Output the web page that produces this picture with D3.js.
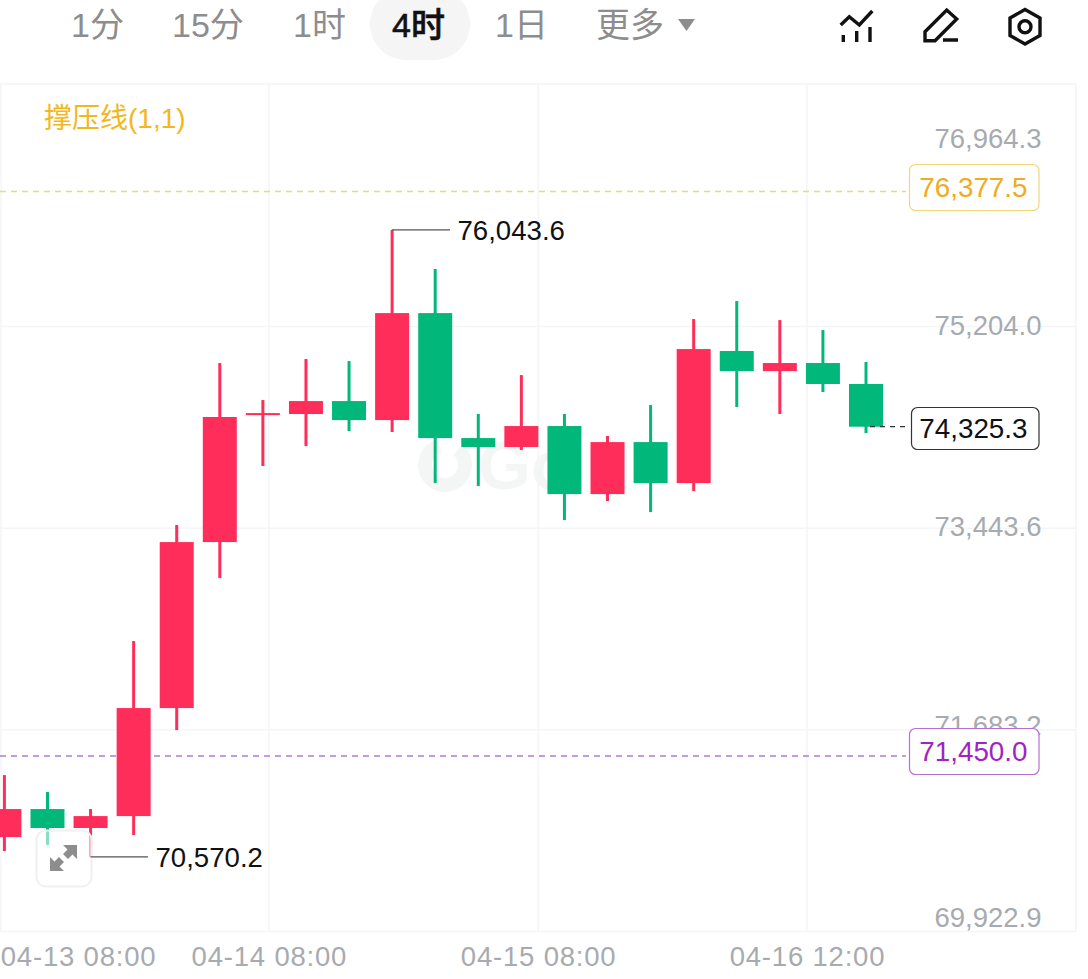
<!DOCTYPE html>
<html><head><meta charset="utf-8">
<script src="https://cdn.jsdelivr.net/npm/d3@7/dist/d3.min.js"></script>
<style>
html,body{margin:0;padding:0;background:#fff;overflow:hidden}
svg{display:block}
text{font-family:"Liberation Sans",sans-serif}
.cjk{font-family:"Liberation Sans","Noto Sans CJK SC",sans-serif}
</style></head><body>
<svg id="c" width="1088" height="979"></svg>
<script>
const tabs=["1分","15分","1时","4时","1日","更多"];
const tabStart=[71,172,293,392,495,596];
const legendText="撑压线(1,1)";
const opens =[70743,70822,70822,70926,71869,73318,74427,74436,74549,74383,75317,74226,74148,74331,73737,74191,73833,74986,74811,74881,74698];
const closes=[70987.5,70987.5,70926,71869,73318,74410,74444,74549,74383,75317,74226,74148,74331,73737,74191,73833,75003,74811,74881,74698,74325.3];
const highs =[71284,71136,70987.5,72454,73467,74881,74558,74916,74898,76043.6,75702,74436,74776,74436,74244,74514,75265,75422,75256,75169,74890];
const lows  =[70621,70673,70570.2,70761,71677,73004,73982,74156,74287,74279,73833,73807,74122,73510,73676,73580,73764,74497,74436,74628,74270];
const upFlags=[1,0,1,1,1,1,1,1,0,1,0,0,1,0,1,0,1,0,1,0,0];
const priceTicks=[76964.3,75204.0,73443.6,71683.2,69922.9];
const gridPrices=[75204.0,73443.6,71683.2,69922.9];
const timeLabels=["04-13 08:00","04-14 08:00","04-15 08:00","04-16 12:00"];
const timeGridIdx=[-0.08,6.14,12.39,18.63,24.87];
const timeLabelIdx=[1.71,6.14,12.39,18.63];
const hiLevel=76377.5, loLevel=71450.0, lastPrice=74325.3, maxPrice=76043.6, minPrice=70570.2;

const svg=d3.select("#c");
const W=1076, TOP=84, BOT=931;
const y=d3.scaleLinear().domain([69922.9,76964.3]).range([931,124.4]);
const x=d3.scaleLinear().domain([0,20]).range([4.4,866]);
const fmt=d3.format(",.1f");
const RED="#ff2d5a", GREEN="#02b77a", AX="#a7abb0", GRID="#f4f5f6";

// header
svg.append("rect").attr("x",370).attr("y",-12).attr("width",100).attr("height",72).attr("rx",36).attr("fill","#f5f5f5");
svg.append("g").selectAll("text").data(tabs).join("text").attr("class","cjk")
 .attr("x",(d,i)=>tabStart[i]).attr("y",37).attr("font-size",34)
 .attr("fill",(d,i)=>i===3?"#111":"#8d8d8d").attr("font-weight",(d,i)=>i===3?500:400)
 .attr("stroke",(d,i)=>i===3?"#111":"none").attr("stroke-width",0.6).text(d=>d);
svg.append("path").attr("d","M678 19H695L686.5 31Z").attr("fill","#8d8d8d");
const ic=svg.append("g").attr("fill","none").attr("stroke","#111").attr("stroke-width",3.4);
ic.append("path").attr("d","M840.7 25L849.3 16.7L859.3 25L872.3 11M843.3 35V42M856.7 31V42M870 27V42");
ic.append("path").attr("d","M925 31.7L946.7 10L956.7 19L935 40.7H925ZM943 40H958");
ic.append("path").attr("d","M1025 9.5L1040 18V35.5L1025 44L1010 35.5V18Z");
ic.append("circle").attr("cx",1025).attr("cy",26.7).attr("r",6);

// grid
const grid=svg.append("g");
grid.append("line").attr("x1",0).attr("x2",W).attr("y1",TOP).attr("y2",TOP).attr("stroke",GRID).attr("stroke-width",1.5);
const gy=grid.append("g").call(d3.axisRight(y).tickValues(gridPrices).tickSize(W).tickFormat(""));
gy.select(".domain").remove(); gy.selectAll("line").attr("stroke",GRID).attr("stroke-width",1.5);
grid.selectAll("line.v").data(timeGridIdx).join("line").attr("class","v")
 .attr("x1",d=>x(d)).attr("x2",d=>x(d)).attr("y1",TOP).attr("y2",BOT).attr("stroke",GRID).attr("stroke-width",1.5);

// watermark
const wm=svg.append("g").attr("fill","#f4f5f5");
wm.append("path").attr("d",d3.arc().innerRadius(13).outerRadius(27).startAngle(0.7).endAngle(6.0)()).attr("transform","translate(445,465)");
wm.append("text").attr("x",478).attr("y",489).attr("font-size",68).attr("font-weight",700).text("Go");

// y axis labels
const ya=svg.append("g").attr("transform",`translate(${W},0)`)
 .call(d3.axisLeft(y).tickValues(priceTicks).tickSize(0).tickPadding(34.5).tickFormat(fmt));
ya.select(".domain").remove();
ya.selectAll("text").attr("font-size",27.5).attr("fill",AX).attr("font-family","Liberation Sans")
 .attr("dy",(d,i)=>i===0?"0.85em":i===4?"-0.18em":i===3?"0.2em":i===2?"0.28em":"0.32em");

// x axis labels
const xa=svg.append("g").attr("transform",`translate(0,${BOT})`)
 .call(d3.axisBottom(x).tickValues(timeLabelIdx).tickSize(0).tickPadding(15).tickFormat((d,i)=>timeLabels[i]));
xa.select(".domain").remove();
xa.selectAll("text").attr("font-size",27.5).attr("fill",AX).attr("font-family","Liberation Sans").attr("letter-spacing",0.8);

// level lines
function level(v,c,x2){
 svg.append("line").attr("x1",0).attr("x2",x2).attr("y1",y(v)).attr("y2",y(v)).attr("stroke",c).attr("stroke-width",1.5).attr("stroke-dasharray","6 5");
}
level(hiLevel,"#e3df70",906);
level(loLevel,"#a87fd8",906);

// candles
const data=opens.map((o,i)=>({i,o,c:closes[i],h:highs[i],l:lows[i],up:!!upFlags[i]}));
const col=d=>d.up?RED:GREEN;
const cg=svg.append("g").selectAll("g").data(data).join("g");
cg.append("line").attr("x1",d=>x(d.i)).attr("x2",d=>x(d.i)).attr("y1",d=>y(d.h)).attr("y2",d=>y(d.l)).attr("stroke",col).attr("stroke-width",3);
cg.append("rect").attr("x",d=>x(d.i)-17).attr("width",34)
 .attr("y",d=>Math.min(y(d.o),y(d.c))).attr("height",d=>Math.max(2,Math.abs(y(d.o)-y(d.c)))).attr("fill",col);

// legend
svg.append("text").attr("class","cjk").attr("x",44).attr("y",128).attr("font-size",28).attr("fill","#f3b71e").text(legendText);

// zoom button
svg.append("rect").attr("x",36.5).attr("y",830.5).attr("width",55).attr("height",56).attr("rx",9).attr("fill","rgba(255,255,255,.55)").attr("stroke","#f0f0f0").attr("stroke-width",2);
svg.append("path").attr("fill","#8d8d8d").attr("d","M77 845V859L72.5 854.5L68 859L63 854L67.5 849.5L63 845ZM50 871V857L54.5 861.5L59 857L64 862L59.5 866.5L64 871Z");

// extreme labels
function ext(v,idx,tx){
 svg.append("line").attr("x1",x(idx)).attr("x2",tx-8).attr("y1",y(v)).attr("y2",y(v)).attr("stroke","#555").attr("stroke-width",1.3);
 svg.append("text").attr("x",tx-0.5).attr("y",y(v)+10).attr("font-size",27.6).attr("fill","#111").text(fmt(v));
}
ext(maxPrice,9,458);
ext(minPrice,2,156);

// price tags
function tag(v,bx,h,dyBox,stroke,fill){
 const yy=Math.round(y(v))+dyBox;
 svg.append("rect").attr("x",bx+.5).attr("y",yy-h/2+.5).attr("width",1038.5-bx).attr("height",h).attr("rx",6).attr("fill","#fff").attr("stroke",stroke).attr("stroke-width",1.2);
 svg.append("text").attr("x",1027.5).attr("y",yy+10).attr("text-anchor","end").attr("font-size",27.8).attr("fill",fill).text(fmt(v));
}
tag(hiLevel,909,46,-5,"#f1d777","#f0ab1f");
tag(loLevel,909,46,-5,"#b670d0","#a024c4");
svg.append("line").attr("x1",870).attr("x2",908).attr("y1",y(lastPrice)).attr("y2",y(lastPrice)).attr("stroke","#333").attr("stroke-width",1.2).attr("stroke-dasharray","5 5");
tag(lastPrice,911,42,1,"#333","#111");
</script></body></html>
